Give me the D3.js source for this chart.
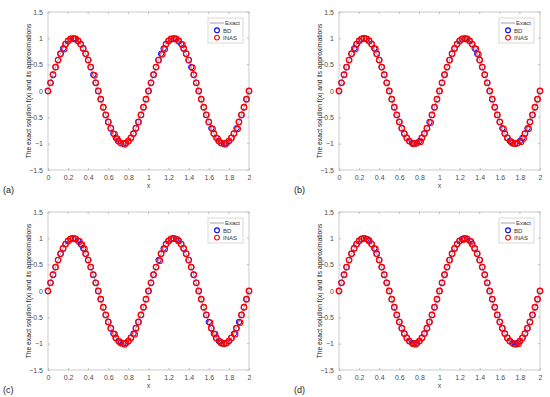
<!DOCTYPE html>
<html>
<head>
<meta charset="utf-8">
<script src="https://cdn.jsdelivr.net/npm/d3@7"></script>
<style>
  body { margin: 0; background: #fff; }
  svg text { font-family: "Liberation Sans", Arial, sans-serif; }
</style>
</head>
<body>
<svg id="chart" width="550" height="397"></svg>
<script>
// grid of sample points and the exact solution f(x)
const xs = [0, 0.025, 0.05, 0.075, 0.1, 0.125, 0.15, 0.175, 0.2, 0.225, 0.25, 0.275, 0.3, 0.325, 0.35, 0.375, 0.4, 0.425, 0.45, 0.475,
  0.5, 0.525, 0.55, 0.575, 0.6, 0.625, 0.65, 0.675, 0.7, 0.725, 0.75, 0.775, 0.8, 0.825, 0.85, 0.875, 0.9, 0.925, 0.95, 0.975,
  1, 1.025, 1.05, 1.075, 1.1, 1.125, 1.15, 1.175, 1.2, 1.225, 1.25, 1.275, 1.3, 1.325, 1.35, 1.375, 1.4, 1.425, 1.45, 1.475,
  1.5, 1.525, 1.55, 1.575, 1.6, 1.625, 1.65, 1.675, 1.7, 1.725, 1.75, 1.775, 1.8, 1.825, 1.85, 1.875, 1.9, 1.925, 1.95, 1.975, 2];
const exact = [0, 0.156, 0.309, 0.454, 0.588, 0.707, 0.809, 0.891, 0.951, 0.988, 1, 0.988, 0.951, 0.891, 0.809, 0.707, 0.588, 0.454, 0.309, 0.156,
  0, -0.156, -0.309, -0.454, -0.588, -0.707, -0.809, -0.891, -0.951, -0.988, -1, -0.988, -0.951, -0.891, -0.809, -0.707, -0.588, -0.454, -0.309, -0.156,
  0, 0.156, 0.309, 0.454, 0.588, 0.707, 0.809, 0.891, 0.951, 0.988, 1, 0.988, 0.951, 0.891, 0.809, 0.707, 0.588, 0.454, 0.309, 0.156,
  0, -0.156, -0.309, -0.454, -0.588, -0.707, -0.809, -0.891, -0.951, -0.988, -1, -0.988, -0.951, -0.891, -0.809, -0.707, -0.588, -0.454, -0.309, -0.156, 0];

// points where the BD marker shows through the INAS marker, per panel
const bdVisibleA = [0.15, 0.25, 0.45, 0.65, 0.675, 0.75, 1.125, 1.15, 1.25, 1.325, 1.425, 1.625, 1.675, 1.75, 1.875];
const bdVisibleB = [0.15, 0.35, 0.725, 0.8, 0.9, 1.25, 1.35, 1.375, 1.625, 1.7, 1.8, 1.825, 1.875];
const bdVisibleC = [0.3, 0.325, 0.35, 0.65, 0.7, 0.75, 0.85, 1.1, 1.15, 1.275, 1.6, 1.65, 1.7, 1.85, 1.9];
const bdVisibleD = [0.275, 0.35, 0.725, 0.75, 1.225, 1.3, 1.725, 1.75, 1.775];

const panelLabels = ["(a)", "(b)", "(c)", "(d)"];
const xTicks = [0, 0.2, 0.4, 0.6, 0.8, 1, 1.2, 1.4, 1.6, 1.8, 2];
const yTicks = [-1.5, -1, -0.5, 0, 0.5, 1, 1.5];
const legendNames = ["Exact", "BD", "INAS"];

const panels = [
  { left: 48, top: 12, visible: bdVisibleA },
  { left: 339, top: 12, visible: bdVisibleB },
  { left: 48, top: 212, visible: bdVisibleC },
  { left: 339, top: 212, visible: bdVisibleD },
];

const W = 201, H = 158;
const axisColor = "#bdbdbd", textColor = "#4d4d4d";
const svg = d3.select("#chart");

panels.forEach((p, i) => {
  const g = svg.append("g").attr("transform", `translate(${p.left}, ${p.top})`);
  const x = d3.scaleLinear().domain([0, 2]).range([0, W]);
  const y = d3.scaleLinear().domain([-1.5, 1.5]).range([H, 0]);

  // box
  g.append("rect").attr("width", W).attr("height", H)
    .attr("fill", "none").attr("stroke", axisColor).attr("stroke-width", 0.8);

  // axes
  const xAxisG = g.append("g").attr("transform", `translate(0, ${H})`)
    .call(d3.axisBottom(x).tickValues(xTicks).tickSize(-2).tickPadding(5).tickFormat(d3.format("")));
  const yAxisG = g.append("g")
    .call(d3.axisLeft(y).tickValues(yTicks).tickSize(-2).tickPadding(5).tickFormat(d3.format("")));
  [xAxisG, yAxisG].forEach((a) => {
    a.select(".domain").remove();
    a.selectAll("line").attr("stroke", axisColor);
    a.selectAll("text").attr("fill", textColor).style("font-size", "7px")
      .style("font-family", '"Liberation Sans", Arial, sans-serif');
  });
  // top and right ticks (MATLAB box)
  g.selectAll(".tt").data(xTicks).join("line")
    .attr("x1", (d) => x(d)).attr("x2", (d) => x(d)).attr("y1", 0).attr("y2", 2)
    .attr("stroke", axisColor);
  g.selectAll(".rt").data(yTicks).join("line")
    .attr("x1", W).attr("x2", W - 2).attr("y1", (d) => y(d)).attr("y2", (d) => y(d))
    .attr("stroke", axisColor);

  // labels
  g.append("text").attr("x", W / 2).attr("y", H + 18).attr("text-anchor", "middle")
    .attr("fill", textColor).style("font-size", "7px").text("x");
  g.append("text").attr("transform", `translate(-17, ${H / 2}) rotate(-90)`)
    .attr("text-anchor", "middle").attr("fill", "#222").style("font-size", "6.7px")
    .text("The exact solution f(x) and its approximations");
  g.append("text").attr("x", -45).attr("y", H + 23)
    .attr("fill", "#222").style("font-size", "9px").text(panelLabels[i]);

  // exact line
  const data = xs.map((v, k) => ({ x: v, y: exact[k] }));
  g.append("path").datum(data)
    .attr("fill", "none").attr("stroke", "#8c8c8c").attr("stroke-width", 0.8)
    .attr("d", d3.line().curve(d3.curveMonotoneX).x((d) => x(d.x)).y((d) => y(d.y)));

  // BD markers
  g.selectAll(".bd").data(data).join("circle")
    .attr("cx", (d) => x(d.x)).attr("cy", (d) => y(d.y)).attr("r", 2.7)
    .attr("fill", "none").attr("stroke", "#0000ff").attr("stroke-width", 1);

  // INAS markers, slightly off where BD shows through
  g.selectAll(".inas").data(data).join("circle")
    .attr("cx", (d) => x(d.x) + (p.visible.includes(d.x) ? 1.2 : 0))
    .attr("cy", (d) => y(d.y) + (p.visible.includes(d.x) ? 0.6 : 0))
    .attr("r", 2.8)
    .attr("fill", "none").attr("stroke", "#ff0000").attr("stroke-width", 1.2);

  // legend
  const lg = g.append("g").attr("transform", `translate(${W - 41}, 6)`);
  lg.append("rect").attr("width", 35).attr("height", 25)
    .attr("fill", "#fff").attr("stroke", "#c8c8c8").attr("stroke-width", 0.7);
  legendNames.forEach((name, k) => {
    const cy = 5 + k * 7.3;
    if (k === 0) {
      lg.append("line").attr("x1", 2).attr("x2", 16).attr("y1", cy).attr("y2", cy)
        .attr("stroke", "#8c8c8c").attr("stroke-width", 0.8);
    } else {
      lg.append("circle").attr("cx", 9).attr("cy", cy).attr("r", 2.4).attr("fill", "none")
        .attr("stroke", k === 1 ? "#0000ff" : "#ff0000").attr("stroke-width", 1.1);
    }
    lg.append("text").attr("x", k === 0 ? 17 : 15).attr("y", cy + 2.2)
      .attr("fill", "#333").style("font-size", "6px").text(name);
  });
});
</script>
</body>
</html>
